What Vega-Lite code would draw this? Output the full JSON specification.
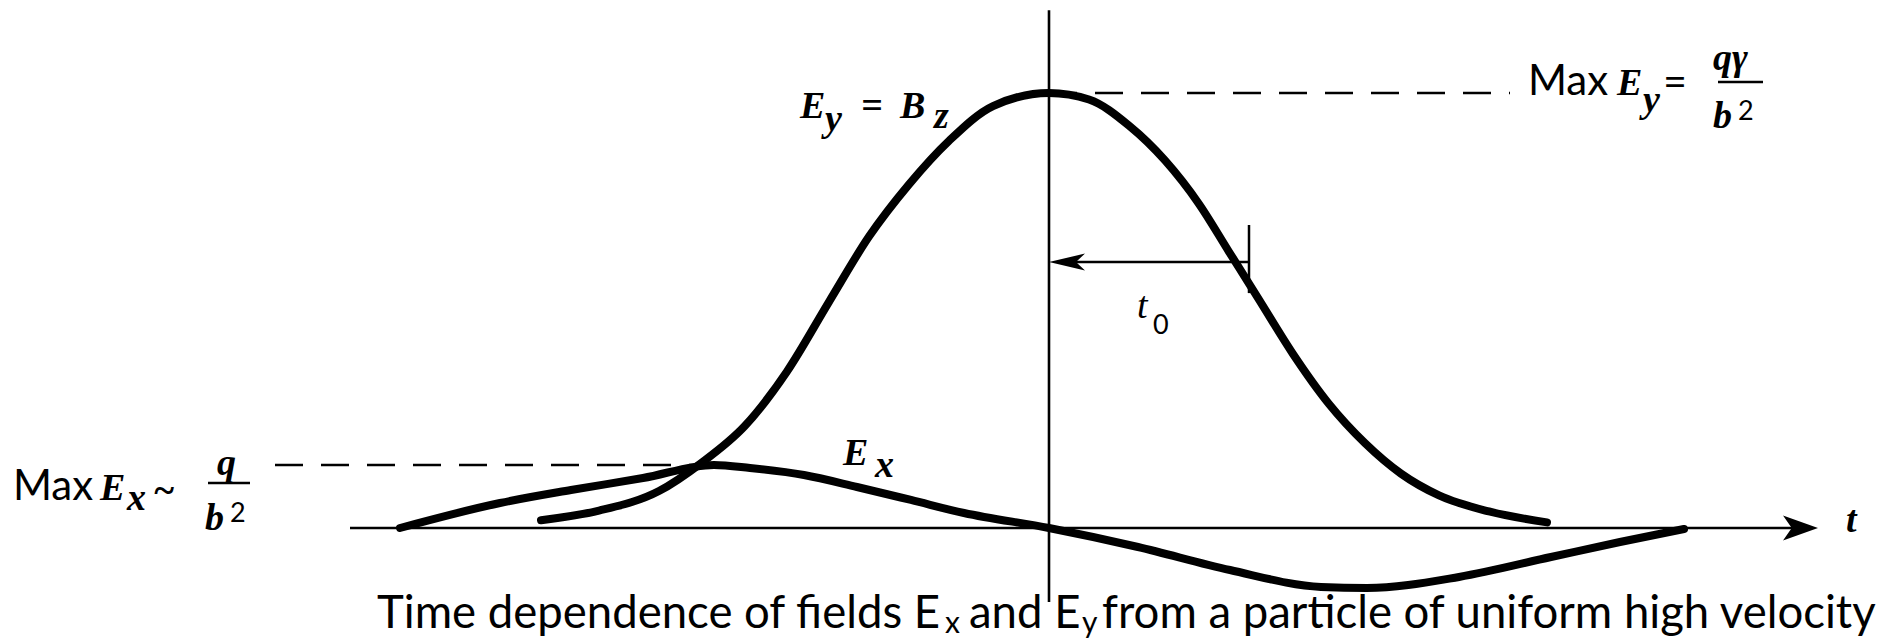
{
  "$schema": "https://vega.github.io/schema/vega-lite/v6.json",
  "width": 1887,
  "height": 640,
  "padding": 0,
  "autosize": {"type": "none"},
  "background": "white",
  "config": {"view": {"stroke": null}},
  "datasets": {
    "fields": [
      {"s": "Ey", "t": -2.54, "e": 0.018},
      {"s": "Ey", "t": -2.25, "e": 0.040},
      {"s": "Ey", "t": -1.95, "e": 0.085},
      {"s": "Ey", "t": -1.74, "e": 0.149},
      {"s": "Ey", "t": -1.52, "e": 0.235},
      {"s": "Ey", "t": -1.31, "e": 0.360},
      {"s": "Ey", "t": -1.10, "e": 0.520},
      {"s": "Ey", "t": -0.90, "e": 0.670},
      {"s": "Ey", "t": -0.70, "e": 0.790},
      {"s": "Ey", "t": -0.50, "e": 0.890},
      {"s": "Ey", "t": -0.28, "e": 0.970},
      {"s": "Ey", "t": 0, "e": 1.0},
      {"s": "Ey", "t": 0.20, "e": 0.985},
      {"s": "Ey", "t": 0.40, "e": 0.925},
      {"s": "Ey", "t": 0.58, "e": 0.845},
      {"s": "Ey", "t": 0.75, "e": 0.745},
      {"s": "Ey", "t": 0.90, "e": 0.635},
      {"s": "Ey", "t": 1.05, "e": 0.525},
      {"s": "Ey", "t": 1.22, "e": 0.400},
      {"s": "Ey", "t": 1.40, "e": 0.285},
      {"s": "Ey", "t": 1.58, "e": 0.195},
      {"s": "Ey", "t": 1.76, "e": 0.125},
      {"s": "Ey", "t": 1.95, "e": 0.075},
      {"s": "Ey", "t": 2.20, "e": 0.038},
      {"s": "Ey", "t": 2.49, "e": 0.013},
      {"s": "Ex", "t": -3.245, "e": 0},
      {"s": "Ex", "t": -2.745, "e": 0.0575},
      {"s": "Ex", "t": -2.39, "e": 0.0874},
      {"s": "Ex", "t": -2.03, "e": 0.1149},
      {"s": "Ex", "t": -1.675, "e": 0.145},
      {"s": "Ex", "t": -1.495, "e": 0.1379},
      {"s": "Ex", "t": -1.225, "e": 0.1218},
      {"s": "Ex", "t": -0.96, "e": 0.0943},
      {"s": "Ex", "t": -0.69, "e": 0.0644},
      {"s": "Ex", "t": -0.425, "e": 0.0345},
      {"s": "Ex", "t": 0, "e": 0},
      {"s": "Ex", "t": 0.445, "e": -0.0437},
      {"s": "Ex", "t": 0.905, "e": -0.0966},
      {"s": "Ex", "t": 1.36, "e": -0.1356},
      {"s": "Ex", "t": 1.59, "e": -0.1379},
      {"s": "Ex", "t": 2.05, "e": -0.1126},
      {"s": "Ex", "t": 2.51, "e": -0.0667},
      {"s": "Ex", "t": 2.855, "e": -0.0322},
      {"s": "Ex", "t": 3.175, "e": -0.0023}
    ],
    "segments": [
      {"kind": "axis", "t": -3.495, "t2": 3.78, "e": 0, "e2": 0},
      {"kind": "axis", "t": 0, "t2": 0, "e": -0.17, "e2": 1.19},
      {"kind": "guide", "t": 0, "t2": 2.305, "e": 1, "e2": 1},
      {"kind": "guide", "t": -3.87, "t2": -1.675, "e": 0.145, "e2": 0.145},
      {"kind": "marker", "t": 0.05, "t2": 1.0, "e": 0.6115, "e2": 0.6115},
      {"kind": "marker", "t": 1.0, "t2": 1.0, "e": 0.54, "e2": 0.6966},
      {"kind": "marker", "t": 3.345, "t2": 3.57, "e": 1.0253, "e2": 1.0253},
      {"kind": "marker", "t": -4.205, "t2": -3.995, "e": 0.1034, "e2": 0.1034}
    ],
    "heads": [
      {"kind": "time", "t": 3.7575, "e": 0},
      {"kind": "t0", "t": 0.09, "e": 0.6115}
    ],
    "labels": [
      {"style": "sym", "t": -1.245, "e": 0.9425, "txt": "E"},
      {"style": "sym", "t": -1.12, "e": 0.913, "txt": "y"},
      {"style": "sym", "t": -0.94, "e": 0.9425, "txt": "="},
      {"style": "sym", "t": -0.745, "e": 0.9425, "txt": "B"},
      {"style": "sym", "t": -0.575, "e": 0.9195, "txt": "z"},
      {"style": "sym", "t": -1.03, "e": 0.1448, "txt": "E"},
      {"style": "sym", "t": -0.87, "e": 0.1172, "txt": "x"},
      {"style": "sym", "t": 2.84, "e": 0.9954, "txt": "E"},
      {"style": "sym", "t": 2.97, "e": 0.9563, "txt": "y"},
      {"style": "sym", "t": 3.075, "e": 0.9954, "txt": "="},
      {"style": "sym", "t": -4.745, "e": 0.0644, "txt": "E"},
      {"style": "sym", "t": -4.61, "e": 0.0414, "txt": "x"},
      {"style": "sym", "t": -4.48, "e": 0.0575, "txt": "~"},
      {"style": "sym", "t": 3.985, "e": -0.01, "txt": "t"},
      {"style": "thin", "t": 0.44, "e": 0.483, "txt": "t"},
      {"style": "frac", "t": 3.32, "e": 1.0529, "txt": "qγ"},
      {"style": "frac", "t": 3.32, "e": 0.9195, "txt": "b"},
      {"style": "frac", "t": -4.16, "e": 0.1218, "txt": "q"},
      {"style": "frac", "t": -4.22, "e": -0.0046, "txt": "b"},
      {"style": "pow", "t": 3.445, "e": 0.938, "txt": "2"},
      {"style": "pow", "t": -4.095, "e": 0.0138, "txt": "2"},
      {"style": "pow", "t": 0.52, "e": 0.445, "txt": "0"},
      {"style": "word", "t": 2.395, "e": 0.9954, "txt": "Max"},
      {"style": "word", "t": -5.18, "e": 0.0644, "txt": "Max"},
      {"style": "cap", "t": -3.36, "e": -0.2299, "txt": "Time dependence of fields E"},
      {"style": "capsub", "t": -0.52, "e": -0.2414, "txt": "x"},
      {"style": "cap", "t": -0.40, "e": -0.2299, "txt": "and E"},
      {"style": "capsub", "t": 0.165, "e": -0.2414, "txt": "y"},
      {"style": "cap", "t": 0.265, "e": -0.2299, "txt": "from a particle of uniform high velocity"}
    ]
  },
  "encoding": {
    "x": {"field": "t", "type": "quantitative", "axis": null, "scale": {"domain": [-5.245, 4.19], "nice": false, "zero": false}},
    "y": {"field": "e", "type": "quantitative", "axis": null, "scale": {"domain": [-0.25747, 1.21379], "nice": false, "zero": false}}
  },
  "layer": [
    {
      "data": {"name": "segments"},
      "transform": [{"filter": "datum.kind === 'axis'"}],
      "mark": {"type": "rule", "color": "black", "strokeWidth": 2.6},
      "encoding": {"x2": {"field": "t2"}, "y2": {"field": "e2"}}
    },
    {
      "data": {"name": "segments"},
      "transform": [{"filter": "datum.kind === 'guide'"}],
      "mark": {"type": "rule", "color": "black", "strokeWidth": 2.5, "strokeDash": [28, 18]},
      "encoding": {"x2": {"field": "t2"}, "y2": {"field": "e2"}}
    },
    {
      "data": {"name": "segments"},
      "transform": [{"filter": "datum.kind === 'marker'"}],
      "mark": {"type": "rule", "color": "black", "strokeWidth": 2.5},
      "encoding": {"x2": {"field": "t2"}, "y2": {"field": "e2"}}
    },
    {
      "data": {"name": "fields"},
      "mark": {"type": "line", "color": "black", "strokeWidth": 8, "interpolate": "monotone", "strokeCap": "round", "strokeJoin": "round"},
      "encoding": {"detail": {"field": "s"}, "order": {"field": "t", "type": "quantitative"}}
    },
    {
      "data": {"name": "heads"},
      "transform": [{"filter": "datum.kind === 'time'"}],
      "mark": {"type": "point", "shape": "M1,0L-1,-0.71L-0.5,0L-1,0.71Z", "filled": true, "color": "black", "opacity": 1, "size": 1225}
    },
    {
      "data": {"name": "heads"},
      "transform": [{"filter": "datum.kind === 't0'"}],
      "mark": {"type": "point", "shape": "M-1,0L1,-0.47L0.5,0L1,0.47Z", "filled": true, "color": "black", "opacity": 1, "size": 1296}
    },
    {
      "data": {"name": "labels"},
      "transform": [{"filter": "datum.style === 'sym'"}],
      "mark": {"type": "text", "align": "left", "baseline": "alphabetic", "font": "Liberation Serif", "fontStyle": "italic", "fontWeight": "bold", "fontSize": 38, "color": "black"},
      "encoding": {"text": {"field": "txt"}}
    },
    {
      "data": {"name": "labels"},
      "transform": [{"filter": "datum.style === 'thin'"}],
      "mark": {"type": "text", "align": "left", "baseline": "alphabetic", "font": "Liberation Serif", "fontStyle": "italic", "fontSize": 38, "color": "black"},
      "encoding": {"text": {"field": "txt"}}
    },
    {
      "data": {"name": "labels"},
      "transform": [{"filter": "datum.style === 'frac'"}],
      "mark": {"type": "text", "align": "left", "baseline": "alphabetic", "font": "Liberation Serif", "fontStyle": "italic", "fontWeight": "bold", "fontSize": 38, "color": "black"},
      "encoding": {"text": {"field": "txt"}}
    },
    {
      "data": {"name": "labels"},
      "transform": [{"filter": "datum.style === 'pow'"}],
      "mark": {"type": "text", "align": "left", "baseline": "alphabetic", "font": "Lato", "fontSize": 27, "color": "black"},
      "encoding": {"text": {"field": "txt"}}
    },
    {
      "data": {"name": "labels"},
      "transform": [{"filter": "datum.style === 'word'"}],
      "mark": {"type": "text", "align": "left", "baseline": "alphabetic", "font": "Lato", "fontSize": 42, "color": "black"},
      "encoding": {"text": {"field": "txt"}}
    },
    {
      "data": {"name": "labels"},
      "transform": [{"filter": "datum.style === 'cap'"}],
      "mark": {"type": "text", "align": "left", "baseline": "alphabetic", "font": "Lato", "fontSize": 45.5, "color": "black"},
      "encoding": {"text": {"field": "txt"}}
    },
    {
      "data": {"name": "labels"},
      "transform": [{"filter": "datum.style === 'capsub'"}],
      "mark": {"type": "text", "align": "left", "baseline": "alphabetic", "font": "Lato", "fontSize": 30, "color": "black"},
      "encoding": {"text": {"field": "txt"}}
    }
  ]
}
